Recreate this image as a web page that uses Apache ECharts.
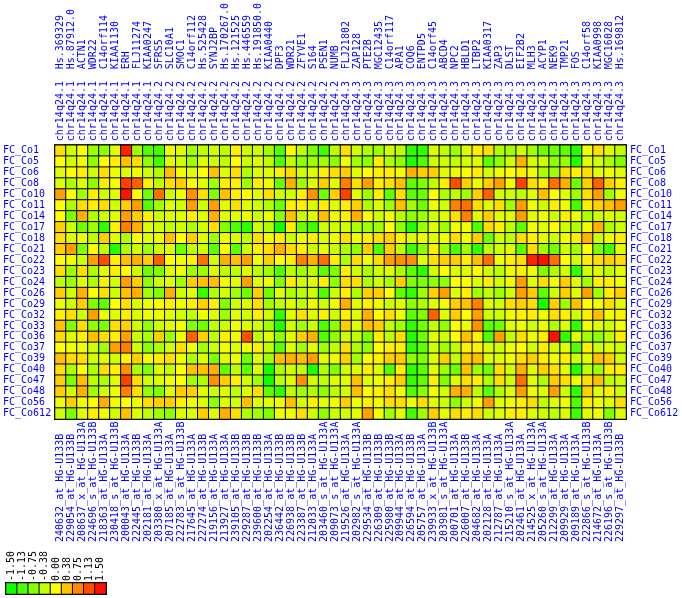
<!DOCTYPE html>
<html>
<head>
<meta charset="utf-8">
<script src="https://cdn.jsdelivr.net/npm/echarts@6/dist/echarts.min.js"></script>
<style>
html, body { margin: 0; padding: 0; background: #fff; }
#main { width: 682px; height: 598px; }
</style>
</head>
<body>
<div id="main"></div>
<script>
var rowNames = ['FC_Co1', 'FC_Co5', 'FC_Co6', 'FC_Co8', 'FC_Co10', 'FC_Co11', 'FC_Co14', 'FC_Co17', 'FC_Co18',
    'FC_Co21', 'FC_Co22', 'FC_Co23', 'FC_Co24', 'FC_Co26', 'FC_Co29', 'FC_Co32', 'FC_Co33', 'FC_Co36',
    'FC_Co37', 'FC_Co39', 'FC_Co40', 'FC_Co47', 'FC_Co48', 'FC_Co56', 'FC_Co612'];

var geneNames = ['Hs.369329', 'Hs.87912.0', 'ACTN1', 'WDR22', 'C14orf114', 'KIAA1130', 'ERH', 'FLJ11274',
    'KIAA0247', 'SFRS5', 'SLC10A1', 'SMOC1', 'C14orf112', 'Hs.525428', 'SYNJ2BP', 'Hs.170267.0',
    'Hs.121525', 'Hs.446559', 'Hs.191850.0', 'KIAA0440', 'DPF3', 'WDR21', 'ZFYVE1', 'S164', 'PSEN1',
    'NUMB', 'FLJ21802', 'ZAP128', 'PTE2B', 'MGC12435', 'C14orf117', 'APA1', 'COQ6', 'ENTPD5',
    'C14orf45', 'ABCD4', 'NPC2', 'HBLD1', 'LTBP2', 'KIAA0317', 'ZAP3', 'DLST', 'EIF2B2', 'MLH3',
    'ACYP1', 'NEK9', 'TMP21', 'FOS', 'C14orf58', 'KIAA0998', 'MGC16028', 'Hs.169812'];

var chromBands = [
    'chr14q24.1', 'chr14q24.1', 'chr14q24.1', 'chr14q24.1', 'chr14q24.1', 'chr14q24.1', 'chr14q24.1',
    'chr14q24.1', 'chr14q24.1',
    'chr14q24.2', 'chr14q24.2', 'chr14q24.2', 'chr14q24.2', 'chr14q24.2', 'chr14q24.2', 'chr14q24.2',
    'chr14q24.2', 'chr14q24.2', 'chr14q24.2', 'chr14q24.2', 'chr14q24.2', 'chr14q24.2', 'chr14q24.2',
    'chr14q24.2', 'chr14q24.2', 'chr14q24.2',
    'chr14q24.3', 'chr14q24.3', 'chr14q24.3', 'chr14q24.3', 'chr14q24.3', 'chr14q24.3', 'chr14q24.3',
    'chr14q24.3', 'chr14q24.3', 'chr14q24.3', 'chr14q24.3', 'chr14q24.3', 'chr14q24.3', 'chr14q24.3',
    'chr14q24.3', 'chr14q24.3', 'chr14q24.3', 'chr14q24.3', 'chr14q24.3', 'chr14q24.3', 'chr14q24.3',
    'chr14q24.3', 'chr14q24.3', 'chr14q24.3', 'chr14q24.3', 'chr14q24.3'];

var probeIds = ['240632_at_HG-U133B', '229054_at_HG-U133B', '208637_x_at_HG-U133A', '224696_s_at_HG-U133B',
    '218363_at_HG-U133A', '230418_s_at_HG-U133B', '200043_at_HG-U133A', '222445_at_HG-U133B',
    '202181_at_HG-U133A', '203380_x_at_HG-U133A', '207185_at_HG-U133A', '222783_s_at_HG-U133B',
    '217645_at_HG-U133A', '227274_at_HG-U133B', '219156_at_HG-U133A', '213927_at_HG-U133A',
    '239105_at_HG-U133B', '229287_at_HG-U133B', '239600_at_HG-U133B', '202254_at_HG-U133A',
    '236442_at_HG-U133B', '226938_at_HG-U133B', '223387_at_HG-U133B', '212033_at_HG-U133A',
    '203460_s_at_HG-U133A', '209073_s_at_HG-U133A', '219526_at_HG-U133A', '202982_s_at_HG-U133A',
    '229534_at_HG-U133B', '226309_at_HG-U133B', '225980_at_HG-U133B', '209944_at_HG-U133A',
    '226594_at_HG-U133B', '205757_at_HG-U133A', '239933_x_at_HG-U133B', '203981_s_at_HG-U133A',
    '200701_at_HG-U133A', '226007_at_HG-U133B', '204682_at_HG-U133A', '202128_at_HG-U133A',
    '212787_at_HG-U133A', '215210_s_at_HG-U133A', '202461_at_HG-U133A', '214525_x_at_HG-U133A',
    '205260_s_at_HG-U133A', '212299_at_HG-U133A', '209929_at_HG-U133A', '209189_at_HG-U133A',
    '222866_s_at_HG-U133B', '214672_at_HG-U133A', '226196_s_at_HG-U133B', '229297_at_HG-U133B'];

// one row per sample (rowNames), one value per probe column
var values = [
    [0.2,-0.3,0,-0.6,-0.7,-0.2,1.4,-0.6,-1.1,-1.2,-0.1,-0.2,-0.6,-0.4,-0.3,-0.4,0.1,-0.3,-0.3,-0.6,-1.1,0,-0.4,-0.8,-1.2,-0.4,
     0.2,-0.3,-0.5,-0.6,-0.3,-0.4,-1.3,-1.3,-0.2,-0.4,-0.6,-0.2,0.1,0.2,-0.5,-0.6,-0.3,-0.6,-0.9,-0.9,-1.0,-1.4,-0.1,0.2,-0.2,-0.4],
    [0,-0.3,-0.1,-0.7,0,0.1,0.4,0.2,-0.7,-1.2,-0.2,-0.3,-0.6,-0.2,-0.3,-0.4,0,-0.3,-0.2,-0.4,-1.1,-0.4,-0.7,-0.6,-0.6,-0.7,
     -0.1,-0.6,-0.7,0.1,-0.5,-0.7,-1.4,-1.1,-0.3,-0.3,-0.4,-0.3,-0.2,-1.0,-0.7,-0.3,0.5,-0.3,-0.3,-0.7,-0.6,-1.4,-0.2,-0.3,-0.5,-0.8],
    [-0.2,0,0.1,-0.3,0.2,-0.1,-0.2,-0.1,-0.3,-0.5,0.4,-0.1,-0.2,0,0.4,-0.2,0.2,-0.5,-0.2,-0.2,0.1,0.2,-0.3,-0.2,0.1,0.2,
     0.3,-0.2,0,0.1,0.1,-0.1,0.5,0.3,0.3,-0.2,-0.1,0,0.1,-0.3,-0.1,0,0.1,-0.1,-0.5,-0.6,0.2,0.1,0.2,-0.2,-0.1,-0.2],
    [-0.2,-0.5,-0.2,-0.7,0.1,-0.1,1.2,1.0,0.1,-0.4,0.2,0.3,0,-0.2,-0.6,0.1,0.1,-0.6,0.1,-0.1,-0.9,0.5,-0.6,-0.2,0.3,-0.2,
     0.8,0.2,0.6,0.1,0.2,0.4,-1.0,-0.8,-0.4,0.1,1.1,0.3,-0.1,0.3,0.6,-0.1,1.2,0.2,0.1,0.9,0.5,-0.9,0.3,1.0,0.3,0.1],
    [0.6,0,-0.6,0.1,-0.3,-0.2,1.5,0,-0.9,0.9,-0.3,-0.1,0.7,0.2,-0.8,0.4,0.1,0,-0.2,0.2,-0.3,-0.3,0.1,0.7,-0.9,0.3,
     1.2,-0.2,-0.6,0.1,-1.0,0.2,-1.0,-0.9,0,-0.5,-0.4,-0.6,0.3,1.0,-0.3,-0.3,-0.4,-0.2,0.4,0,-0.2,-0.6,0.2,0.6,-0.6,-0.1],
    [0,-0.5,0.2,0.1,0.2,-0.3,0.3,0.6,-1.1,-0.6,-0.2,-0.3,0.6,-0.3,0.6,-0.2,0.2,-0.2,-0.3,-0.5,-0.9,0.1,0.1,-0.2,0.1,-0.2,
     0.1,0.3,-0.5,-0.2,-0.6,0.4,-0.6,-0.9,-0.1,-0.3,0.8,0.9,0.2,-0.2,0.2,-0.6,0.6,-0.1,-0.3,0.1,-0.1,-1.2,0.1,0.3,0.4,0.6],
    [0,-0.8,0.5,-0.5,-0.3,-0.2,0.6,0.3,0.1,-0.3,-0.2,-0.2,0.1,-0.2,0.5,-0.2,-0.2,-0.1,-0.3,-0.1,-0.7,0.4,-0.3,-0.2,0.4,-0.1,
     0.1,0.5,0,-0.3,-0.1,-0.4,-0.7,-0.6,-0.3,-0.2,0.2,0.8,-0.2,0.3,-0.2,-0.2,0.6,-0.2,-0.1,-0.3,0.1,-0.1,-0.5,-0.3,-0.2,-0.3],
    [0.3,-0.3,-0.9,-0.6,-1.3,0.1,0.8,0.5,-0.2,-0.3,-0.4,-0.3,-0.5,-0.3,0.2,-0.8,-1.1,-1.3,-0.3,-0.5,-1.5,0.1,-0.9,-1.2,-0.3,-0.3,
     -0.3,-0.5,-0.6,-0.6,0,-0.7,-1.4,-0.6,-0.2,-0.6,-0.1,-0.1,-1.1,0.2,0.1,-0.4,-1.0,-0.1,-0.2,0,-0.3,-0.5,-0.1,0.5,-0.5,-0.3],
    [0.2,-0.2,-0.1,-0.4,0.3,-0.2,-0.5,0,-0.2,-0.1,0.4,0,0.3,-0.2,-0.6,-0.1,-0.2,-0.4,0.2,-0.1,0.1,-0.3,-0.1,0.1,-0.2,-0.1,
     0.2,-0.1,0.1,0.2,0.3,0.1,-0.2,-0.1,-0.2,-0.1,0.2,-0.1,0.3,-0.9,-0.3,-0.4,0.2,0.1,-0.2,-0.3,-0.1,0.1,0.5,-0.3,-0.1,0.1],
    [0.3,0.6,-0.8,0,-0.4,-1.4,-0.5,-0.3,-0.6,-0.3,-0.2,-0.9,-0.4,-0.3,-1.0,0,-1.0,-0.3,0.1,0.2,0.5,0.2,0.1,-0.3,-0.2,-0.3,
     -0.5,-0.7,0.3,-1.1,0.3,-0.4,-1.2,-0.7,0.1,-0.6,-1.1,-0.6,-1.3,-0.4,-0.3,-0.2,-1.0,0.2,-0.6,-0.9,-0.3,-0.6,0,-0.8,-1.2,-0.2],
    [0,-0.1,-0.3,0.6,1.1,0.1,0.4,0.5,0.3,1.0,0,-0.1,0.1,0.9,-0.3,0.5,0.4,0.6,-0.1,0.3,0,0.1,0.8,0.5,0.9,0.1,
     -0.5,0.2,-0.1,0.2,0.6,0.7,0.7,-0.2,0.2,0.3,0.3,0.1,0.4,0.9,-0.1,0.1,0.2,1.4,1.5,0.9,0,-0.3,0.1,0.2,0.3,0.2],
    [0.2,-0.6,0.2,-0.5,-0.2,0.1,0,-0.3,-0.9,-0.8,-0.2,-0.1,-0.6,-0.6,-0.2,-0.4,-0.4,-0.2,-0.4,-0.6,-1.1,-0.4,-0.6,-0.4,-1.0,-0.8,
     0.1,-0.3,-0.5,-0.3,-0.2,-0.5,-1.0,-1.3,-0.3,0,-0.2,-0.2,0,-0.3,-0.4,-0.1,0.1,-0.1,-0.8,-0.5,-0.3,-1.3,-0.3,-0.2,-0.4,-0.2],
    [-0.4,-0.6,-0.2,-0.5,0.1,-0.3,0.6,0.3,-0.7,-0.3,-0.2,-0.6,0.3,0.4,0.4,-0.1,-0.2,0.6,-0.2,-0.1,-0.8,0.1,-0.3,-0.2,0.1,-0.7,
     0.2,0.2,-0.5,-0.3,-0.5,0.3,-0.8,-0.8,-0.7,-0.7,0,0,-0.2,0.1,-0.3,-0.1,0.6,-0.2,0.2,-0.1,0.3,-0.2,-0.6,0.1,0.1,-0.1],
    [0.3,-0.3,0.5,0,0.2,-0.3,0.4,0.5,-0.6,-0.8,0.5,-0.3,-0.2,-1.3,-0.5,-0.3,-0.6,-0.9,0.3,-0.9,-0.2,-0.5,-0.4,-0.3,-1.1,-0.3,
     0.1,-0.5,0.3,0.3,0,-1.0,-1.3,-0.6,0.3,0.6,-0.2,0.1,-0.6,-0.4,-0.6,-0.3,0.6,0.3,-1.0,-0.3,0.3,-0.2,0.6,-0.6,0.1,0.3],
    [-0.1,-0.3,0.3,-0.8,-1.0,0,0.2,-0.2,-0.1,0,0.1,-0.1,0.1,0.3,0.1,-0.8,-0.3,-0.2,0.2,-0.6,-0.4,-0.2,-0.4,-0.1,-0.3,-0.1,
     0.5,-0.2,0.1,-0.1,-0.3,-0.2,-0.7,-0.5,-0.2,-0.1,0.3,0.4,0.8,-0.2,-0.3,0.2,0.3,0.2,-1.5,0.3,-0.6,0.4,0,-0.1,0.2,-0.2],
    [0.1,0.2,-0.3,0.6,-0.1,-0.2,0.1,-0.2,-0.1,-0.1,-0.2,-0.3,-0.4,-0.1,-0.2,-0.6,-0.2,-0.3,0.1,-0.3,-1.3,-0.2,0.2,-0.2,0.1,-0.3,
     0.1,-0.2,0.5,0,0.2,-0.1,-1.0,-0.8,1.0,-0.2,0.3,0,0.6,-0.3,-0.3,-0.1,0.1,0.1,-0.1,0.2,0.1,-0.3,0.1,0.4,-0.1,0.1],
    [0.4,-0.8,0.2,-0.7,-0.8,0.2,0.3,-0.3,-0.7,-0.3,-0.2,-0.1,-0.8,-0.9,-0.4,-0.3,-0.1,-0.2,-0.3,-0.6,-1.4,-0.3,-0.6,-0.3,-1.1,-0.7,
     0.3,-0.2,0.4,0.3,-0.4,-0.6,-1.3,-0.9,-0.4,-0.7,0,-0.1,0.7,-1.0,-0.9,-0.2,-0.1,-0.3,-0.1,-0.5,-0.2,-1.3,-0.1,-0.2,-0.3,-0.1],
    [0.2,-0.2,0.1,0.4,0.2,0.1,0.6,-0.3,-0.5,0.3,-0.6,-0.1,1.0,0.3,-0.4,0.1,-0.1,1.1,-0.4,-0.2,-0.7,-0.2,0.3,0.5,-1.1,-0.7,
     -0.3,-0.4,-0.8,0.1,-0.4,0.2,-1.4,-0.9,-0.2,-0.3,0,0.4,0.1,-1.1,0.6,-0.4,0.2,-0.1,0.1,1.5,-1.3,-0.2,-0.6,-0.7,-0.4,0.1],
    [0,-0.1,-0.1,-0.3,-0.6,0.6,0.8,-0.3,-0.7,-0.5,-0.3,0.2,-0.1,-0.6,-0.3,-0.1,-0.2,-0.1,0.1,-0.4,-1.0,-0.2,-0.6,-0.2,-0.6,-0.4,
     0.2,-0.5,-0.7,0,0.1,0.1,-1.3,-1.0,-0.3,-0.6,-0.4,0.1,0.1,-0.2,-0.3,-0.1,0,-0.3,0.1,-0.3,-0.2,-1.1,0.1,-0.3,-0.2,-0.3],
    [0.4,0.2,0.2,-0.3,-0.2,-0.3,0.1,0.3,-0.1,0.1,0.2,-0.1,-0.5,-0.2,-0.8,-0.2,-0.1,-0.9,-0.2,-0.6,0.4,0.5,0.4,0.6,-0.2,-0.1,
     0.3,-0.6,0,0.1,0.3,0.3,-0.7,-0.8,-0.2,0.3,-0.4,0.3,0.4,-0.2,-0.2,-0.1,0.2,0.3,0.1,-0.1,0.1,-0.3,-0.2,0.4,0.3,-0.3],
    [0.2,-0.5,0,-0.5,0.2,0.1,0.7,-0.5,-0.8,-0.2,-0.4,0,0.4,0.4,0.5,-1.0,-0.4,-1.0,-0.2,-1.5,-0.5,-0.3,-0.4,-1.4,-0.5,-0.8,
     -0.3,-0.2,0.1,-0.2,-1.1,0.1,-1.3,-1.0,-0.2,-0.6,-0.9,0.4,-0.6,-0.9,0.2,-0.3,0.5,-0.2,0.3,0.2,-0.2,-1.4,-0.4,-0.6,0.1,0.1],
    [0.3,-0.8,0.4,-0.4,-0.5,-0.2,1.2,0.2,-0.3,-0.2,-0.1,0,-0.6,-0.5,0.7,0.3,0.1,-0.3,-0.6,-1.5,-0.4,-0.2,0.7,-0.3,-0.4,-0.2,
     -0.2,0.4,-0.2,-0.1,0.1,0.3,-1.3,-1.0,0.1,-0.8,-0.2,0.2,0.1,-0.5,0.2,-0.3,0.9,-0.2,-0.5,0.3,0.2,-0.1,0.2,0.4,-0.4,-0.3],
    [0.3,-0.3,0.5,-0.6,-0.3,-0.1,0.8,0.2,-0.7,-0.8,-0.2,0.3,0.3,-0.2,-0.3,-0.2,-0.4,-0.2,0.2,-1.0,-1.3,-0.4,-0.6,-0.5,-0.7,-0.4,
     -0.3,0.4,0,0.1,0.2,-0.1,-1.1,-0.7,-0.1,-0.3,0.5,0.5,-0.4,-1.0,-0.5,-0.2,0.6,-0.1,-0.2,0.6,-0.3,-1.3,0.3,-0.2,0.1,-0.3],
    [-0.1,0.3,-0.1,0,0.5,-0.1,0,-0.1,0.2,0.3,0.3,0.1,-0.1,-0.2,-0.7,-0.2,-0.3,0.4,-0.2,-0.2,-0.1,0.4,-0.3,0.1,-0.2,-0.1,
     0.3,-0.1,0.1,-0.1,0.2,0.2,-0.1,0.2,-0.2,-0.3,-0.7,-0.3,-0.1,0.6,-0.2,-0.1,0.1,0.2,-0.4,-0.2,-0.1,-1.1,0.1,-0.1,-0.2,0.2],
    [-0.3,-0.8,-0.2,0.1,-0.1,-0.3,0.4,-0.2,-0.4,-0.6,-0.7,-0.2,-0.2,0.3,-0.2,0.5,0.2,-0.5,-0.6,-0.8,-0.1,-0.1,0.2,-0.3,-0.7,-0.3,
     -0.3,-0.2,0.6,-0.1,-0.6,-0.2,-1.2,-0.6,0.3,-0.2,0.2,0.1,0.2,-0.3,-0.2,0.1,0.1,-0.2,-0.3,-0.4,-0.2,-1.2,-0.2,-0.1,-0.8,-0.2]
];

var legendTicks = ['-1.50', '-1.13', '-0.75', '-0.38', '0.00', '0.38', '0.75', '1.13', '1.50'];
var legendValues = [-1.5, -1.125, -0.75, -0.375, 0, 0.375, 0.75, 1.125, 1.5];

var cells = [];
values.forEach(function (row, r) {
    row.forEach(function (v, c) {
        cells.push([c, r, v]);
    });
});
var legendCells = legendValues.map(function (v, i) { return [i, 0, v]; });

var mono = 'DejaVu Sans Mono';

function lab(extra) {
    var o = { show: true, interval: 0, fontFamily: mono, fontSize: 10, color: '#0000ff' };
    for (var k in extra) o[k] = extra[k];
    return o;
}
var noLine = { show: false };

var chart = echarts.init(document.getElementById('main'), null, { renderer: 'canvas' });
chart.setOption({
    animation: false,
    backgroundColor: '#fff',
    grid: [
        { left: 54, top: 144, width: 572, height: 275, show: true, borderColor: '#000', borderWidth: 2, backgroundColor: 'transparent' },
        { left: 6, top: 583, width: 100, height: 11, show: true, borderColor: '#000', borderWidth: 2, backgroundColor: 'transparent' }
    ],
    xAxis: [
        { type: 'category', gridIndex: 0, position: 'bottom', data: probeIds,
          axisLine: noLine, axisTick: noLine, splitLine: noLine,
          axisLabel: lab({ rotate: 90, align: 'left', verticalAlign: 'middle', margin: 123 }) },
        // top axes: ECharts mirrors the rotation there, so -90 reads bottom-to-top
        { type: 'category', gridIndex: 0, position: 'top', data: chromBands,
          axisLine: noLine, axisTick: noLine, splitLine: noLine,
          axisLabel: lab({ rotate: -90, align: 'left', verticalAlign: 'middle', margin: 4 }) },
        { type: 'category', gridIndex: 0, position: 'top', data: geneNames,
          axisLine: noLine, axisTick: noLine, splitLine: noLine,
          axisLabel: lab({ rotate: -90, align: 'left', verticalAlign: 'middle', margin: 76 }) },
        { type: 'category', gridIndex: 1, position: 'top', data: legendTicks,
          axisLine: noLine, axisTick: noLine, splitLine: noLine,
          axisLabel: lab({ rotate: -90, align: 'left', verticalAlign: 'middle', margin: 2, color: '#000' }) }
    ],
    yAxis: [
        { type: 'category', gridIndex: 0, position: 'left', inverse: true, data: rowNames,
          axisLine: noLine, axisTick: noLine, splitLine: noLine,
          axisLabel: lab({ align: 'left', margin: 52 }) },
        { type: 'category', gridIndex: 0, position: 'right', inverse: true, data: rowNames,
          axisLine: noLine, axisTick: noLine, splitLine: noLine,
          axisLabel: lab({ align: 'left', margin: 4 }) },
        { type: 'category', gridIndex: 1, data: ['scale'], show: false }
    ],
    visualMap: {
        show: false,
        type: 'continuous',
        min: -1.5,
        max: 1.5,
        seriesIndex: [0, 1],
        inRange: { color: ['#11ff00', '#ffff00', '#ff1100'] }
    },
    series: [
        { type: 'heatmap', xAxisIndex: 0, yAxisIndex: 0, data: cells,
          itemStyle: { borderColor: '#000', borderWidth: 1 },
          emphasis: { disabled: true } },
        { type: 'heatmap', xAxisIndex: 3, yAxisIndex: 2, data: legendCells,
          itemStyle: { borderColor: '#000', borderWidth: 1 },
          emphasis: { disabled: true } }
    ]
});
</script>
</body>
</html>
